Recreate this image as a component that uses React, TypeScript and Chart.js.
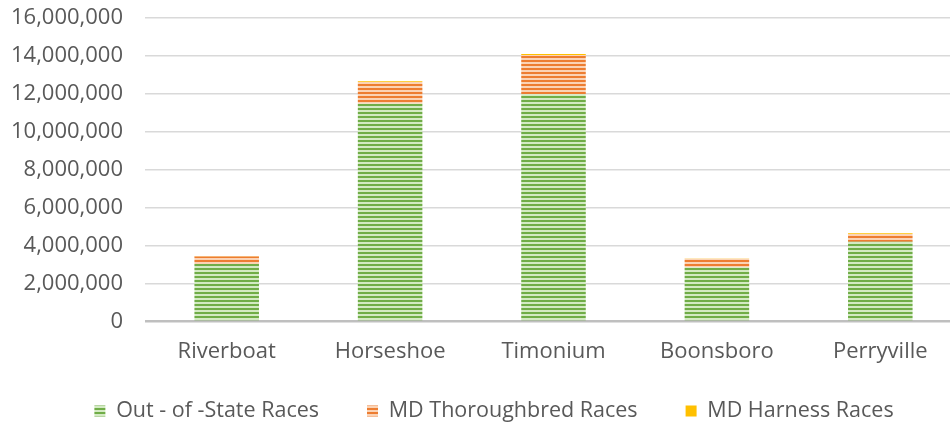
import React, { useEffect, useRef } from 'react';
import { Chart, registerables } from 'chart.js';

Chart.register(...registerables);

const categories = ['Riverboat', 'Horseshoe', 'Timonium', 'Boonsboro', 'Perryville'];
const seriesNames = ['Out - of -State Races', 'MD Thoroughbred Races', 'MD Harness Races'];
const outOfState = [3020000, 11460000, 11960000, 2860000, 4200000];
const mdThoroughbred = [400000, 1150000, 2070000, 440000, 410000];
const mdHarness = [20000, 40000, 50000, 20000, 30000];
const yMin = 0;
const yMax = 16000000;
const yStep = 2000000;

function stripes(ctx: CanvasRenderingContext2D, dark: string, light: string) {
  const c = document.createElement('canvas');
  c.width = 4;
  c.height = 4;
  const g = c.getContext('2d')!;
  g.fillStyle = light;
  g.fillRect(0, 0, 4, 4);
  g.fillStyle = dark;
  g.fillRect(0, 0, 4, 2);
  return ctx.createPattern(c, 'repeat')!;
}

const legendPlacer = {
  id: 'legendPlacer',
  afterLayout(chart: any) {
    const lg = chart.legend;
    if (!lg) return;
    const h = lg.height;
    const top = chart.chartArea.bottom + 30.75;
    lg.top = top;
    lg.bottom = top + h;
    const dx = 13;
    lg.left += dx;
    lg.right += dx;
  },
};

export default function App() {
  const ref = useRef<HTMLCanvasElement | null>(null);

  useEffect(() => {
    const canvas = ref.current!;
    const ctx = canvas.getContext('2d')!;
    const green = stripes(ctx, '#70AD47', '#d3eac3');
    const orange = stripes(ctx, '#ED7D31', '#fbd3b5');
    const yellow = '#FFC000';
    const tickColor = '#595959';
    const font = { family: '"Open Sans", sans-serif', size: 22 };

    const chart = new Chart(ctx, {
      type: 'bar',
      data: {
        labels: categories,
        datasets: [
          { label: seriesNames[0], data: outOfState, backgroundColor: green as any, borderWidth: 0 },
          { label: seriesNames[1], data: mdThoroughbred, backgroundColor: orange as any, borderWidth: 0 },
          { label: seriesNames[2], data: mdHarness, backgroundColor: yellow, borderWidth: 0 },
        ],
      },
      options: {
        responsive: false,
        animation: false,
        devicePixelRatio: 1,
        layout: { padding: { left: 0, right: 5, top: 17.5, bottom: 17.6 } },
        datasets: { bar: { categoryPercentage: 1, barPercentage: 0.395 } },
        scales: {
          x: {
            stacked: true,
            grid: { display: false, drawTicks: false },
            border: { display: false },
            ticks: { color: tickColor, font, padding: 17.5, maxRotation: 0 },
          },
          y: {
            stacked: true,
            min: yMin,
            max: yMax,
            grid: {
              drawTicks: false,
              color: (c: any) => (c.tick && c.tick.value === 0 ? '#bfbfbf' : '#d9d9d9'),
              lineWidth: (c: any) => (c.tick && c.tick.value === 0 ? 2.5 : 1.5),
            },
            border: { display: false },
            ticks: {
              stepSize: yStep,
              color: tickColor,
              font,
              padding: 22,
              callback: (v: any) => Number(v).toLocaleString('en-US'),
            },
            afterFit: (scale: any) => {
              scale.width = 145;
              scale.paddingTop = 0;
              scale.paddingBottom = 0;
            },
          },
        },
        plugins: {
          legend: {
            position: 'bottom',
            labels: {
              boxWidth: 11,
              boxHeight: 11,
              padding: 48,
              color: tickColor,
              font: { family: '"Open Sans", sans-serif', size: 21.5 },
            },
          },
          tooltip: { enabled: false },
        },
      } as any,
      plugins: [legendPlacer],
    });
    return () => chart.destroy();
  }, []);

  return (
    <div
      style={{
        position: 'fixed',
        left: 0,
        top: 0,
        width: 950,
        height: 428,
        overflow: 'hidden',
        background: '#ffffff',
      }}
    >
      <canvas ref={ref} width={967} height={480} style={{ display: 'block' }} />
    </div>
  );
}
